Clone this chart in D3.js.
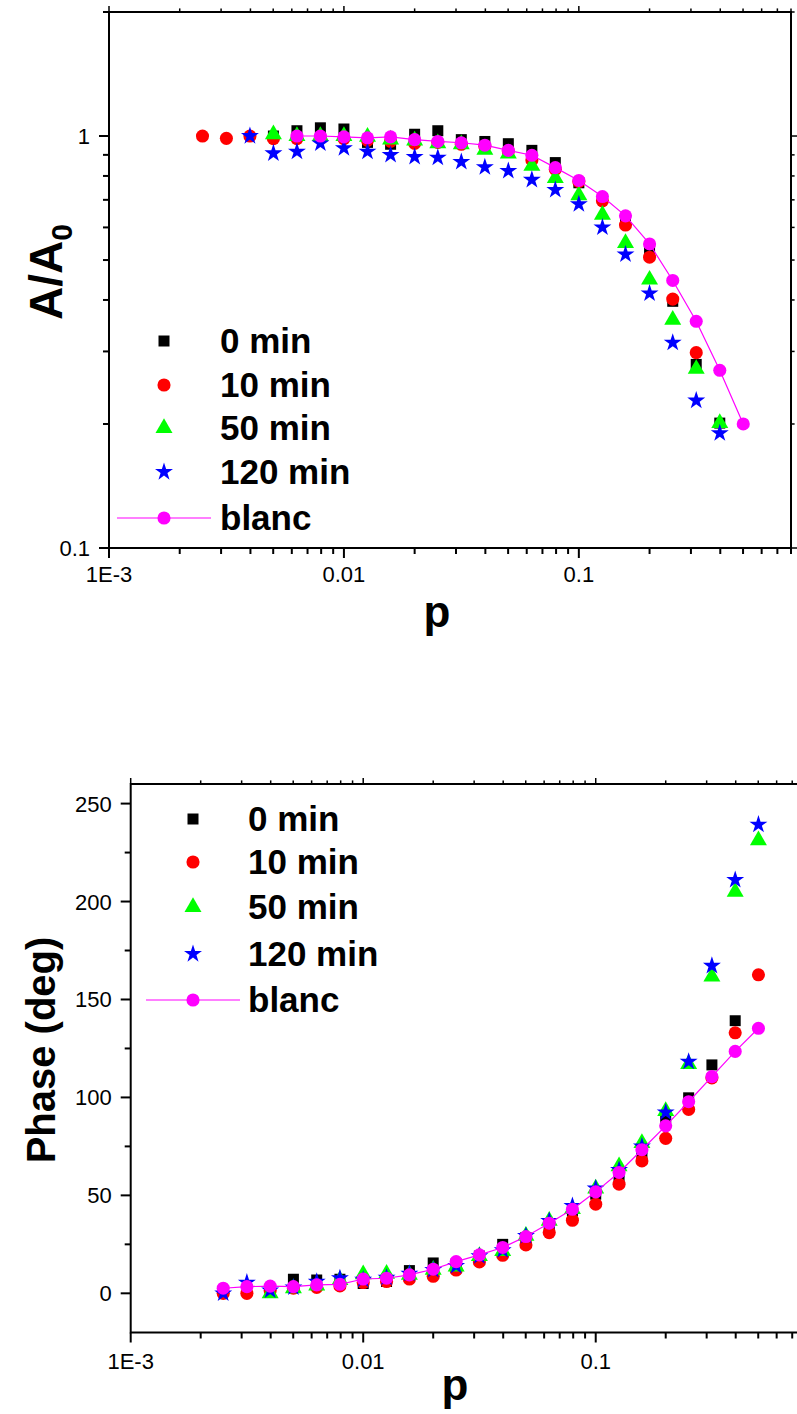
<!DOCTYPE html>
<html><head><meta charset="utf-8">
<script src="https://cdn.jsdelivr.net/npm/d3@7"></script>
<style>body{margin:0;background:#fff}svg{display:block}text{font-family:"Liberation Sans",Arial,sans-serif}</style>
</head><body>
<svg id="c" width="797" height="1414"></svg>
<script>
// ---------- DATA ----------
const pValues = [0.0025,0.00316,0.00398,0.00501,0.00631,0.00794,0.01,0.0126,0.0158,0.02,0.0251,0.0316,0.0398,0.0501,0.0631,0.0794,0.1,0.126,0.158,0.2,0.251,0.316,0.398,0.501];
const seriesNames = ["0 min","10 min","50 min","120 min","blanc"];
const seriesColors = ["#000000","#ff0000","#00ff00","#0000ff","#ff00ff"];

// A/A0 (top panel)
const amp0   = [null,null,null,1.0,1.03,1.047,1.04,0.965,0.955,1.01,1.03,0.98,0.97,0.958,0.923,0.862,0.77,0.705,0.623,0.532,0.397,0.279,0.201,null];
const amp10  = [1.0,0.987,1.0,0.985,0.985,0.99,0.985,0.976,0.97,0.96,0.965,0.955,0.945,0.92,0.875,0.83,0.775,0.696,0.608,0.508,0.402,0.298,null,null];
const amp50  = [null,null,null,1.01,1.0,1.0,1.0,0.996,0.98,0.975,0.96,0.955,0.925,0.906,0.846,0.79,0.718,0.644,0.55,0.448,0.358,0.272,0.201,null];
const amp120 = [null,null,1.0,0.908,0.916,0.96,0.934,0.916,0.90,0.89,0.886,0.865,0.84,0.823,0.783,0.74,0.683,0.60,0.516,0.415,0.315,0.228,0.19,null];
const ampBlanc = [null,null,null,null,1.0,1.0,0.995,0.99,0.995,0.98,0.97,0.963,0.95,0.923,0.898,0.838,0.78,0.713,0.64,0.547,0.446,0.355,0.27,0.2];

// Phase in degrees (bottom panel)
const ph0   = [null,null,null,7.2,6.8,7.2,5,6,11.6,15.5,15,19,25,28.5,35,42,50.6,59.1,70.6,89.8,99.8,116.6,139.2,null];
const ph10  = [0,0,1.4,2.6,3,3.75,5.5,6,7.3,8.7,11.9,16,19.4,24.7,31,37.3,45.5,55.7,67.6,79.1,93.9,110,133,162.6];
const ph50  = [null,null,0,2.6,4,6.8,9.7,9.9,9.4,12,13.6,19,21.5,29.3,37,43,53.5,64.8,76.7,93,117,161.7,205,231.2];
const ph120 = [0,5.5,1.5,3,6,7.7,7,8,10,12,14,19,22,29.3,37,44.6,53.5,63,75,92.4,118.3,167.2,211,239.3];
const phBlanc = [2.6,3.4,3.7,3.4,4.3,4.6,7.3,7.7,9.4,12.3,16.2,19.6,23.4,29,35.8,42.9,51.8,61.7,73.3,85.5,97.8,110.6,123.5,135.3];

const xTickLabels = ["1E-3","0.01","0.1"];
const ampTickLabels = ["0.1","1"];
const phaseTicks = [0,50,100,150,200,250];

// ---------- DRAW ----------
const svg = d3.select("#c");
const symTypes = [d3.symbolSquare, d3.symbolCircle, d3.symbolTriangle, d3.symbolStar, d3.symbolCircle];
const symSizes = [121, 135, 125, 100, 135];

function sym(i){ return d3.symbol().type(symTypes[i]).size(symSizes[i]); }

function minorLog(lo, hi){
  const out=[];
  for(let e=Math.floor(Math.log10(lo)); e<=Math.ceil(Math.log10(hi)); e++){
    for(let m=1;m<10;m++){ const v=m*Math.pow(10,e); if(v>=lo*0.9999 && v<=hi*1.0001) out.push(v);}
  }
  return out;
}

function panel(cfg){
  const g = svg.append("g");
  const x = cfg.x, y = cfg.y;
  const [x0,x1] = x.range(), [yb,yt] = y.range();
  const xt = minorLog(0.001, 0.8);
  xt.forEach(v=>{
    const major = Math.abs(Math.log10(v)-Math.round(Math.log10(v)))<1e-6;
    const L = major?10:6;
    const px = x(v);
    g.append("line").attr("x1",px).attr("x2",px).attr("y1",yb).attr("y2",yb+L).attr("stroke","#000").attr("stroke-width",2);
    g.append("line").attr("x1",px).attr("x2",px).attr("y1",yt).attr("y2",yt-L*0.6).attr("stroke","#000").attr("stroke-width",1.5);
  });
  [0.001,0.01,0.1].forEach((v,i)=>{
    g.append("text").attr("x",x(v)).attr("y",yb+cfg.xlabOff).attr("text-anchor","middle")
      .attr("font-size",22).text(xTickLabels[i]);
  });
  cfg.yticks.forEach(t=>{
    const py = y(t.v);
    g.append("line").attr("x1",x0).attr("x2",x0-t.L).attr("y1",py).attr("y2",py).attr("stroke","#000").attr("stroke-width",2);
    g.append("line").attr("x1",x1).attr("x2",x1+t.L*0.6).attr("y1",py).attr("y2",py).attr("stroke","#000").attr("stroke-width",1.5);
    if(t.label!=null) g.append("text").attr("x",x0-19).attr("y",py+8).attr("text-anchor","end").attr("font-size",22).text(t.label);
  });
  g.append("rect").attr("x",x0).attr("y",yt).attr("width",x1-x0).attr("height",yb-yt)
    .attr("fill","none").attr("stroke","#000").attr("stroke-width",2);
  g.append("text").attr("x",cfg.pX).attr("y",cfg.pY).attr("text-anchor","middle").attr("font-size",44).attr("font-weight","bold").text("p");
  const yl = g.append("text").attr("transform",`translate(${cfg.ytX},${cfg.ytY}) rotate(-90)`)
     .attr("text-anchor","middle").attr("font-weight","bold");
  cfg.ytitle(yl);

  const clipId = "clip"+cfg.id;
  svg.append("clipPath").attr("id",clipId).append("rect").attr("x",x0-8).attr("y",yt-8).attr("width",x1-x0+16).attr("height",yb-yt+16);
  const dg = svg.append("g").attr("clip-path",`url(#${clipId})`);
  cfg.data.forEach((arr,i)=>{
    const pts = pValues.map((p,k)=>({p, v:arr[k]})).filter(d=>d.v!=null);
    if(i===4){
      dg.append("path").datum(pts).attr("fill","none").attr("stroke",seriesColors[i]).attr("stroke-width",1.2)
        .attr("d", d3.line().x(d=>x(d.p)).y(d=>y(d.v)));
    }
    dg.selectAll(null).data(pts).enter().append("path")
      .attr("transform",d=>`translate(${x(d.p)},${y(d.v)})`)
      .attr("d",sym(i)()).attr("fill",seriesColors[i]);
  });

  const lg = svg.append("g");
  seriesNames.forEach((n,i)=>{
    const cy = cfg.legY[i];
    if(i===4){
      lg.append("line").attr("x1",cfg.legSX-47).attr("x2",cfg.legSX+47).attr("y1",cy).attr("y2",cy)
        .attr("stroke",seriesColors[i]).attr("stroke-width",1.2);
    }
    lg.append("path").attr("transform",`translate(${cfg.legSX},${cy})`).attr("d",sym(i)()).attr("fill",seriesColors[i]);
    lg.append("text").attr("x",cfg.legTX).attr("y",cy+12).attr("font-size",35).attr("font-weight","bold").text(n);
  });
}

const xTop = d3.scaleLog().domain([0.001,0.8]).range([109,791]);
const yTop = d3.scaleLog().domain([0.1,2]).range([548,12]);
const ampTicks = minorLog(0.1,2).map(v=>{
  const major = Math.abs(Math.log10(v)-Math.round(Math.log10(v)))<1e-6;
  return {v, L: major?10:6, label: major ? ampTickLabels[Math.round(Math.log10(v))+1] : null};
});
panel({id:"a", x:xTop, y:yTop, yticks:ampTicks, xlabOff:34,
  pX:437, pY:627, ytX:62, ytY:272,
  ytitle: t=>{ t.attr("font-size",46); t.append("tspan").text("A/A"); t.append("tspan").attr("font-size",30).attr("dy",10).text("0"); },
  data:[amp0,amp10,amp50,amp120,ampBlanc],
  legSX:164, legTX:220, legY:[341,385,428,472,518]});

const xBot = d3.scaleLog().domain([0.001,0.8]).range([130.7,805.7]);
const yBot = d3.scaleLinear().domain([-20,260]).range([1332.5,784]);
const phTicks = d3.range(0, 260, 25).map(v=>({v, L: v%50===0?10:6, label: v%50===0? String(phaseTicks[v/50]) : null}));
panel({id:"b", x:xBot, y:yBot, yticks:phTicks, xlabOff:36,
  pX:455, pY:1400, ytX:55, ytY:1050,
  ytitle: t=>{ t.attr("font-size",40).text("Phase (deg)"); },
  data:[ph0,ph10,ph50,ph120,phBlanc],
  legSX:193, legTX:248, legY:[819,862,907,954,1000]});
</script>
</body></html>
